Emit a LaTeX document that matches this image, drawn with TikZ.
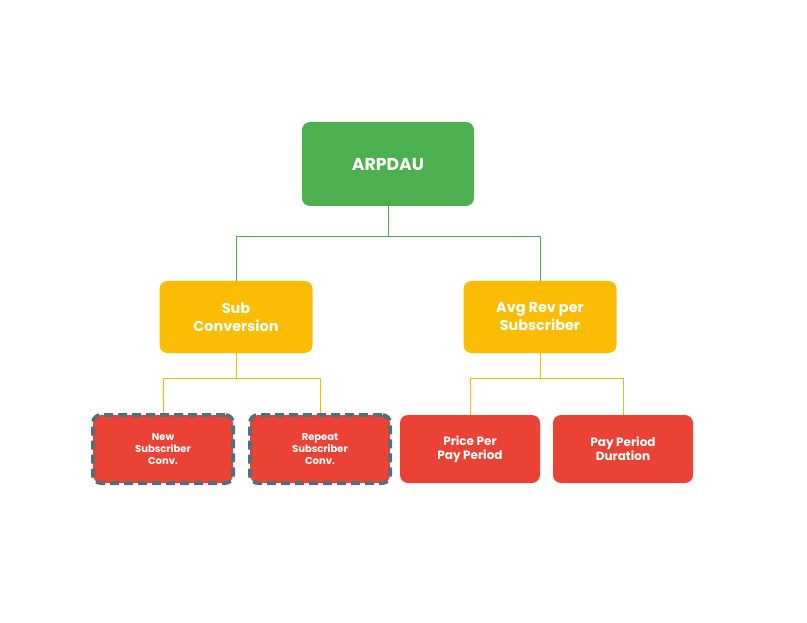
\documentclass[tikz,border=0pt]{standalone}
\usepackage{fontspec}
\setmainfont{Poppins}
\usetikzlibrary{positioning}
\definecolor{kgreen}{HTML}{4CAF50}
\definecolor{kyellow}{HTML}{FBBC04}
\definecolor{kred}{HTML}{EA4335}
\definecolor{kslate}{HTML}{546E7A}
\begin{document}
\begin{tikzpicture}[x=1pt,y=-1pt,
	box/.style={rounded corners=8pt,text=white,font=\bfseries,align=center,inner sep=0pt},
	topbox/.style={box,fill=kgreen,minimum width=172pt,minimum height=84pt,font=\bfseries\LARGE},
	midbox/.style={box,fill=kyellow,minimum width=153pt,minimum height=72pt,font=\bfseries\Large},
	leafbox/.style={box,fill=kred,minimum width=140pt,minimum height=68pt,font=\bfseries\large},
	flagbox/.style={leafbox,minimum width=140pt,minimum height=68pt,draw=kslate,line width=4pt,dash pattern=on 9pt off 5pt,font=\bfseries\normalsize},
	glink/.style={draw=kgreen,line width=1pt},
	ylink/.style={draw=kyellow,line width=1pt}]
		\useasboundingbox (0,0) rectangle (807,623);
		\node[topbox]	(arpdau)	at (388,164)	{ARPDAU};

		\node[midbox]	(sub)	at (236,317)	{Sub\\Conversion};
		\node[midbox]	(avg)	at (540,317)	{Avg Rev per\\Subscriber};

		\node[flagbox]	(new)	at (163,449)	{New\\Subscriber\\Conv.};
		\node[flagbox]	(rep)	at (320,449)	{Repeat\\Subscriber\\Conv.};
		\node[leafbox]	(price)	at (470,449)	{Price Per\\Pay Period};
		\node[leafbox]	(dur)	at (623,449)	{Pay Period\\Duration};

		\draw[glink] (arpdau.south) -- ++(0,30) -| (sub.north);
		\draw[glink] (arpdau.south) -- ++(0,30) -| (avg.north);
		\draw[ylink] (sub.south) -- ++(0,25) -| (new.north);
		\draw[ylink] (sub.south) -- ++(0,25) -| (rep.north);
		\draw[ylink] (avg.south) -- ++(0,25) -| (price.north);
		\draw[ylink] (avg.south) -- ++(0,25) -| (dur.north);
	\end{tikzpicture}
\end{document}
